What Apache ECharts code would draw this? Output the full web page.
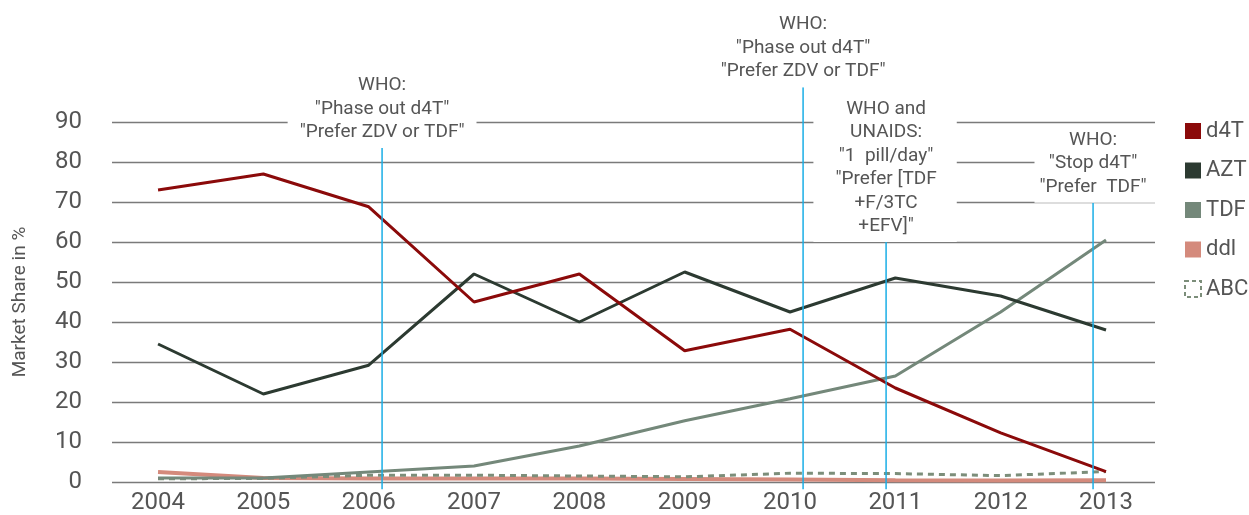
<!DOCTYPE html>
<html>
<head>
<meta charset="utf-8">
<script src="https://cdn.jsdelivr.net/npm/echarts@6/dist/echarts.min.js"></script>
<style>
  html, body { margin: 0; padding: 0; background: #fff; }
  #chart { width: 1249px; height: 515px; }
</style>
</head>
<body>
<div id="chart"></div>
<script>
// market share per year (%)
var years = [2004, 2005, 2006, 2007, 2008, 2009, 2010, 2011, 2012, 2013];
var d4T = [73, 77, 68.8, 45, 52, 32.8, 38.2, 23.5, 12.3, 2.6];
var AZT = [34.5, 22, 29.2, 52, 40, 52.5, 42.5, 51, 46.5, 38];
var TDF = [1, 1, 2.5, 4, 9, 15.3, 20.8, 26.5, 42.5, 60.5];
var ddl = [2.5, 1, 0.9, 0.9, 0.9, 0.75, 0.6, 0.45, 0.35, 0.45];
var ABC = [0.8, 0.9, 1.7, 1.7, 1.5, 1.3, 2.2, 2.1, 1.6, 2.6];

// policy notes: where the blue line stands, how high it reaches, what it says
var noteX = [2006.127, 2010.124, 2010.912, 2012.877];
var noteTop = [83.5, 98.7, 60, 69.8];
var noteBottom = -1.8;
var noteText = [
  'WHO:\n"Phase out d4T"\n"Prefer ZDV or TDF"',
  'WHO:\n"Phase out d4T"\n"Prefer ZDV or TDF"',
  'WHO and\nUNAIDS:\n"1  pill/day"\n"Prefer [TDF\n+F/3TC\n+EFV]"',
  'WHO:\n"Stop d4T"\n"Prefer  TDF"'
];
// white box padding left / right of each note
var notePad = [[12, 12], [0, 0], [22, 20], [5, 14]];

var font = 'Roboto, "Noto Sans", sans-serif';
var textColor = '#555';

function pairs(vals) {
  return years.map(function (y, i) { return [y, vals[i]]; });
}

function lineSeries(name, vals, color, width, type) {
  return {
    name: name,
    type: 'line',
    data: pairs(vals),
    color: color,
    symbol: 'none',
    lineStyle: { color: color, width: width, type: type || 'solid' },
    z: 3
  };
}

function renderNote(params, api) {
  var i = params.dataIndex;
  var top = api.coord([api.value(0), api.value(1)]);
  var bot = api.coord([api.value(0), api.value(2)]);
  var pl = notePad[i][0], pr = notePad[i][1];
  return {
    type: 'group',
    children: [
      {
        type: 'line',
        shape: { x1: top[0], y1: top[1], x2: bot[0], y2: bot[1] },
        style: { stroke: '#1aaee6', lineWidth: 1.5 }
      },
      {
        type: 'text',
        x: top[0] + (pr - pl) / 2,
        y: top[1],
        style: {
          text: noteText[i],
          align: 'center',
          verticalAlign: 'bottom',
          fill: textColor,
          font: '19px ' + font,
          lineHeight: 23.5,
          backgroundColor: '#fff',
          padding: [2, pr, 4, pl]
        }
      }
    ]
  };
}

var chart = echarts.init(document.getElementById('chart'));
chart.setOption({
  animation: false,
  backgroundColor: '#fff',
  grid: { left: 112, right: 94, top: 122, bottom: 33 },
  xAxis: {
    type: 'value',
    min: 2003.563,
    max: 2013.465,
    axisLine: { show: false },
    axisTick: { show: false },
    splitLine: { show: false },
    axisLabel: {
      customValues: years,
      color: textColor,
      fontFamily: font,
      fontSize: 24,
      margin: 9,
      formatter: function (v) { return String(v); }
    }
  },
  yAxis: {
    type: 'value',
    min: 0,
    max: 90,
    interval: 10,
    name: 'Market Share in %',
    nameLocation: 'middle',
    nameGap: 82,
    nameTextStyle: { color: textColor, fontFamily: font, fontSize: 19 },
    axisLine: { show: false },
    axisTick: { show: false },
    axisLabel: { color: textColor, fontFamily: font, fontSize: 24, margin: 30 },
    splitLine: { lineStyle: { color: '#7a7a7a', width: 1.3 } }
  },
  legend: {
    orient: 'vertical',
    left: 1184,
    top: 120,
    padding: 0,
    itemWidth: 16,
    itemHeight: 16,
    itemGap: 17.5,
    textStyle: { color: textColor, fontFamily: font, fontSize: 22, lineHeight: 22 },
    data: [
      { name: 'd4T', icon: 'rect' },
      { name: 'AZT', icon: 'rect' },
      { name: 'TDF', icon: 'rect' },
      { name: 'ddl', icon: 'rect' },
      {
        name: 'ABC',
        icon: 'rect',
        itemStyle: { color: 'rgba(0,0,0,0)', borderColor: '#7c8e7a', borderWidth: 2, borderType: [4, 3] }
      }
    ]
  },
  series: [
    {
      type: 'custom',
      name: 'notes',
      clip: false,
      renderItem: renderNote,
      data: noteX.map(function (x, i) { return [x, noteTop[i], noteBottom]; }),
      encode: { x: 0, y: [1, 2] },
      z: 5
    },
    lineSeries('ddl', ddl, '#d48a7c', 4),
    lineSeries('ABC', ABC, '#7c8e7a', 3, [6, 5]),
    lineSeries('TDF', TDF, '#74887a', 3),
    lineSeries('AZT', AZT, '#2c3a31', 3),
    lineSeries('d4T', d4T, '#8b0a0a', 3)
  ]
});
</script>
</body>
</html>
